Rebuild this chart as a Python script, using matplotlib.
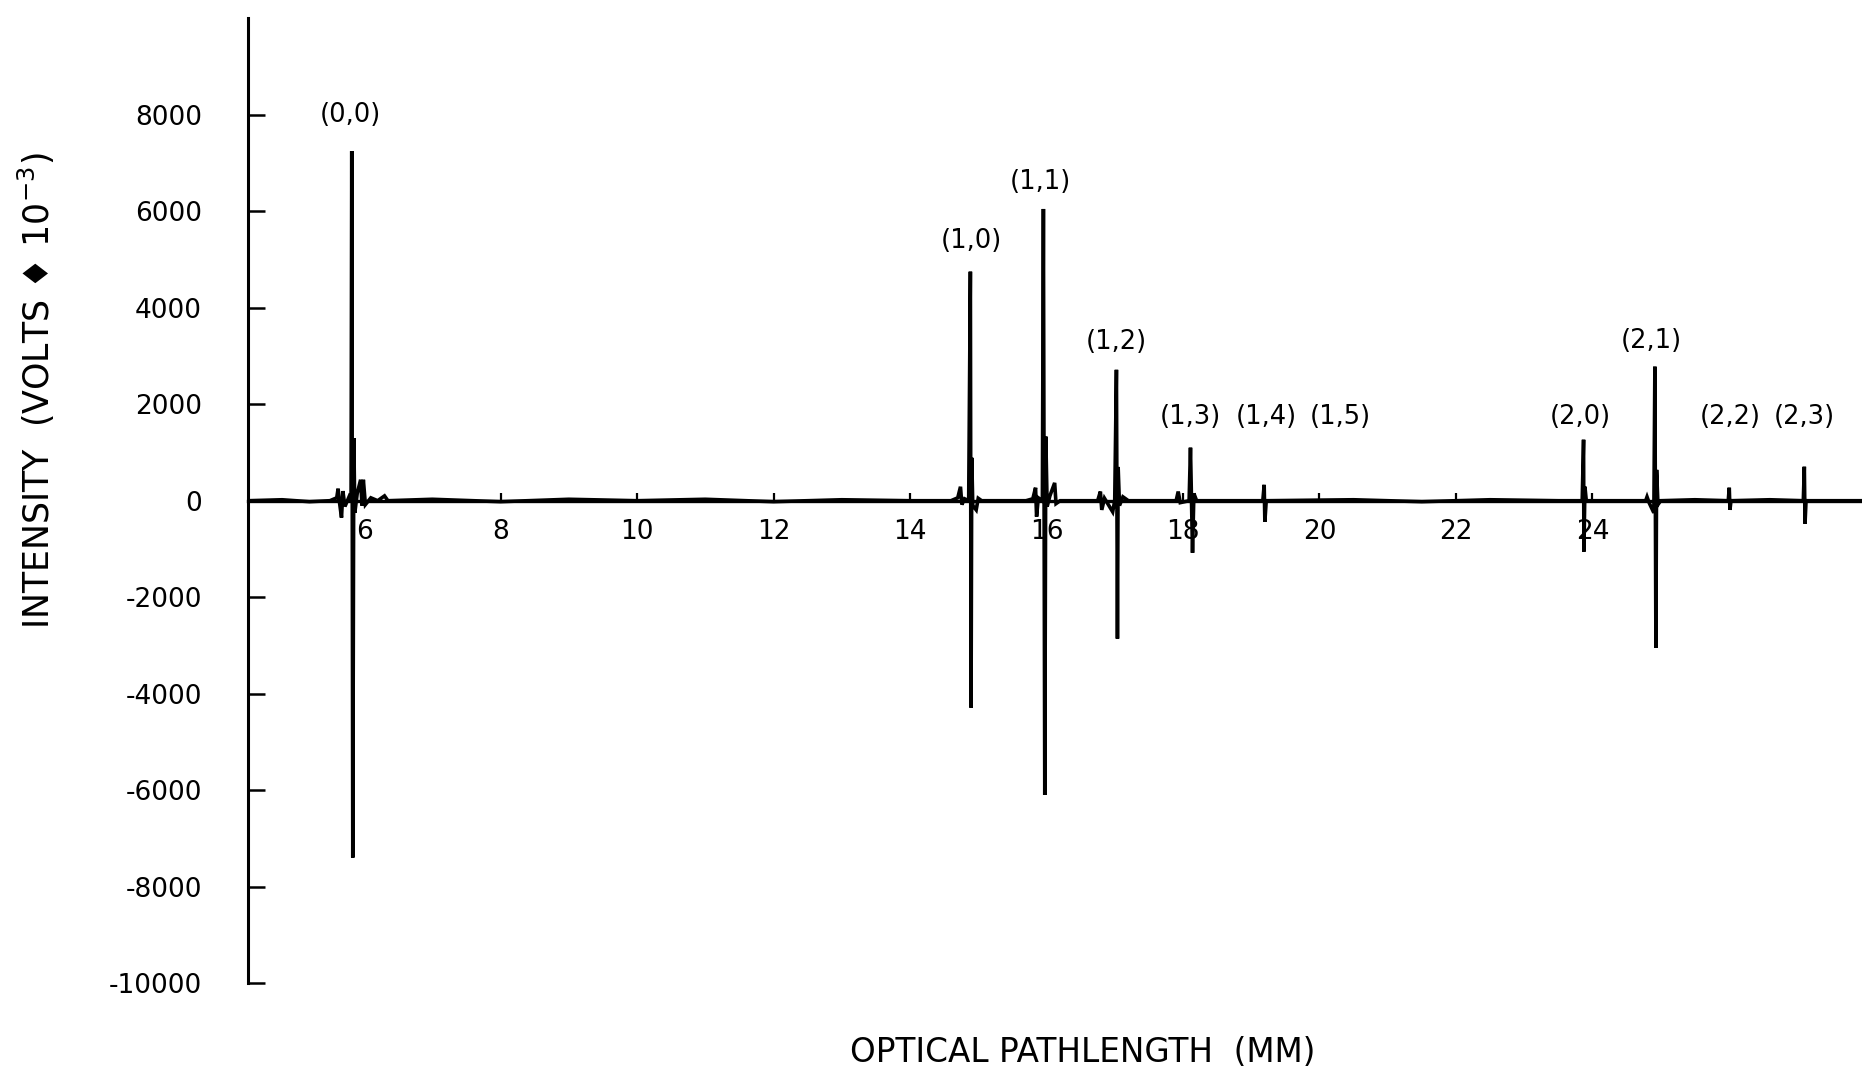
import matplotlib
matplotlib.use("Agg")
import matplotlib.pyplot as plt

# interferogram trace (optical pathlength in mm, intensity in V*1e-3)
trace_mm = [
    4.30, 4.80, 5.20, 5.50,
    # (0,0)
    5.60, 5.62, 5.64, 5.67, 5.69, 5.72, 5.78, 5.81, 5.82, 5.835, 5.85, 5.865,
    5.90, 5.95, 5.97, 5.99, 6.02, 6.10, 6.20, 6.30, 6.35,
    7.00, 8.00, 9.00, 10.00, 11.00, 12.00, 13.00, 14.00, 14.60,
    # (1,0)
    14.70, 14.74, 14.76, 14.80, 14.86, 14.885, 14.895, 14.905, 14.92, 14.97, 15.00, 15.05,
    # (1,1)
    15.70, 15.80, 15.84, 15.855, 15.88, 15.94, 15.955, 15.975, 15.99, 16.01, 16.05,
    16.12, 16.14, 16.20,
    # (1,2)
    16.75, 16.79, 16.81, 16.85, 16.97, 17.00, 17.025, 17.04, 17.05, 17.07, 17.12, 17.20,
    # (1,3)
    17.90, 17.93, 17.96, 18.09, 18.11, 18.14, 18.16, 18.20,
    # (1,4)
    19.17, 19.19, 19.20, 19.22,
    20.50, 21.50, 22.50, 23.50, 23.85,
    # (2,0)
    23.87, 23.875, 23.89, 23.91,
    # (2,1)
    24.78, 24.80, 24.83, 24.90, 24.915, 24.93, 24.94, 24.96, 25.00,
    # (2,2)
    25.50, 25.99, 26.005, 26.015, 26.03,
    # (2,3)
    26.60, 27.09, 27.105, 27.115, 27.13, 27.95,
]
trace_val = [
    0, 20, -20, 0,
    60, 250, -30, -350, 200, -120, 80, 0, 7250, -7400, 1300, -250,
    150, 435, -100, 435, -80, 60, 0, 100, 0,
    30, -20, 30, 0, 30, -20, 20, 0, 0,
    60, 290, -80, 40, 0, 4750, -4290, 890, -100, -190, 50, 0,
    0, 40, 270, -330, 60, 0, 6050, -6100, 1330, -120, 100,
    370, -60, 0,
    0, 190, -190, 50, -230, 0, 2715, -2860, 700, -100, 80, 0,
    0, 190, -40, 0, 1100, -1080, 150, 0,
    0, 330, -435, 0,
    20, -20, 20, 0, 0,
    1265, -1055, 290, 0,
    0, 80, -40, -250, 2780, -3050, 640, -80, 0,
    20, 0, 270, -190, 0,
    20, 0, 705, -475, 0, 0,
]

peak_labels = ["(0,0)", "(1,0)", "(1,1)", "(1,2)", "(1,3)", "(1,4)", "(1,5)",
               "(2,0)", "(2,1)", "(2,2)", "(2,3)"]
label_mm = [5.80, 14.90, 15.91, 17.03, 18.11, 19.22, 20.31, 23.82, 24.86, 26.02, 27.11]
label_val = [8000, 5390, 6610, 3300, 1740, 1740, 1740, 1740, 3320, 1740, 1740]

x_ticks = [6, 8, 10, 12, 14, 16, 18, 20, 22, 24]
y_ticks = [8000, 6000, 4000, 2000, 0, -2000, -4000, -6000, -8000, -10000]
y_tick_labels = ["8000", "6000", "4000", "2000", "0", "-2000", "-4000", "-6000", "-8000", "-10000"]

plt.rcParams["font.family"] = ["DejaVu Sans"]

fig = plt.figure(figsize=(18.62, 10.81), dpi=100)
ax = fig.add_axes([0.1332, 0.0907, 0.8668, 0.8922])

ax.plot(trace_mm, trace_val, color="black", lw=2.6, solid_joinstyle="miter")

for lab, xm, yv in zip(peak_labels, label_mm, label_val):
    ax.text(xm, yv, lab, ha="center", va="center", fontsize=18.5)

ax.set_xlim(4.3, 27.95)
ax.set_ylim(-10000, 10000)

ax.spines["top"].set_visible(False)
ax.spines["right"].set_visible(False)
ax.spines["bottom"].set_position(("data", 0))
ax.spines["left"].set_linewidth(2.2)
ax.spines["bottom"].set_linewidth(2.4)

ax.set_xticks(x_ticks)
ax.set_xticklabels([str(t) for t in x_ticks])
ax.set_yticks(y_ticks)
ax.set_yticklabels(y_tick_labels)
ax.tick_params(axis="y", direction="in", length=12, width=1.8, pad=33, labelsize=19)
ax.tick_params(axis="x", direction="in", length=6, width=1.6, pad=13, labelsize=19)

ax.set_xlabel("OPTICAL PATHLENGTH  (MM)", fontsize=23.5, va="center")
ax.xaxis.set_label_coords(0.517, -0.0726)
ax.set_ylabel("INTENSITY  (VOLTS \u2666 10$^{-3}$)", fontsize=25, va="center", ha="center")
ax.yaxis.set_label_coords(-0.1313, 0.614)

fig.savefig("out.png", dpi=100)
